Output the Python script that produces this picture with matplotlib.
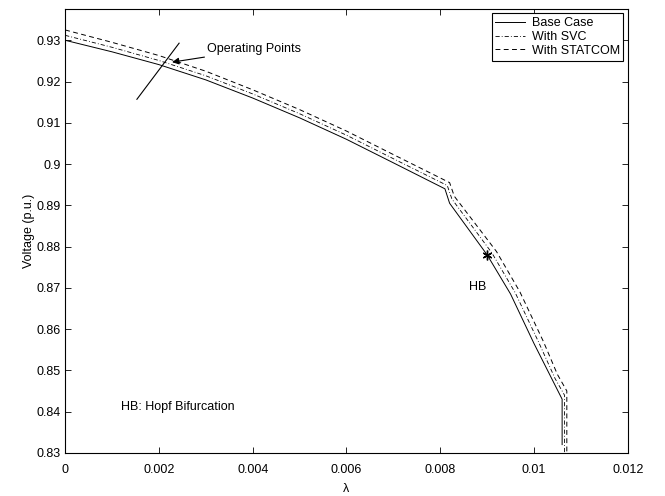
import matplotlib
matplotlib.use("Agg")
import matplotlib.pyplot as plt

plt.rcParams['font.family'] = ['Liberation Sans', 'DejaVu Sans']

# base case
lam_base = [0, 0.001, 0.002, 0.003, 0.004, 0.005, 0.006, 0.007, 0.0081,
            0.0082, 0.009, 0.0095, 0.010, 0.0104, 0.0106, 0.0106]
v_base = [0.9300, 0.9272, 0.9241, 0.9204, 0.9160, 0.9112, 0.9060, 0.9003, 0.8940,
          0.8905, 0.8780, 0.8685, 0.8565, 0.8475, 0.8430, 0.8320]

# with SVC
lam_svc = [0, 0.001, 0.002, 0.003, 0.004, 0.005, 0.006, 0.007, 0.00815,
           0.00825, 0.0091, 0.0096, 0.0101, 0.01045, 0.01065, 0.01065]
v_svc = [0.9312, 0.9283, 0.9251, 0.9214, 0.9170, 0.9122, 0.9070, 0.9013, 0.8948,
         0.8915, 0.8785, 0.8688, 0.8568, 0.8480, 0.8440, 0.8300]

# with STATCOM
lam_stc = [0, 0.001, 0.002, 0.003, 0.004, 0.005, 0.006, 0.007, 0.0082,
           0.0083, 0.0092, 0.0097, 0.0102, 0.0105, 0.0107, 0.0107]
v_stc = [0.9325, 0.9295, 0.9263, 0.9225, 0.9180, 0.9132, 0.9080, 0.9023, 0.8955,
         0.8922, 0.8788, 0.8690, 0.8570, 0.8490, 0.8450, 0.8300]

hb = (0.009, 0.878)
op_line_x = [0.00153, 0.00243]
op_line_y = [0.9157, 0.9293]

fig = plt.figure(figsize=(6.65, 4.96), dpi=100)
ax = fig.add_axes([0.098, 0.087, 0.846, 0.895])

ax.plot(lam_base, v_base, '-', color='black', lw=0.7, label='Base Case')
ax.plot(lam_svc, v_svc, '-.', color='black', lw=0.6, dashes=(5, 2.5, 1, 2.5), label='With SVC')
ax.plot(lam_stc, v_stc, '--', color='black', lw=0.7, dashes=(5, 3.5), label='With STATCOM')
ax.plot(*hb, marker=(6, 2, 0), color='black', ms=7, mew=1.0, ls='none')
ax.plot(op_line_x, op_line_y, '-', color='black', lw=0.8)

ax.annotate('Operating Points', xy=(0.00228, 0.9247), xytext=(0.00303, 0.9278),
            fontsize=9, va='center',
            arrowprops=dict(arrowstyle='-|>', color='black', lw=0.8,
                            mutation_scale=10, shrinkA=0, shrinkB=0))
ax.text(0.00862, 0.8703, 'HB', fontsize=9, va='center')
ax.text(0.00119, 0.8411, 'HB: Hopf Bifurcation', fontsize=9, va='center')

ax.set_xlim(0, 0.012)
ax.set_ylim(0.83, 0.9376)
ax.set_xticks([0, 0.002, 0.004, 0.006, 0.008, 0.01, 0.012])
ax.set_xticklabels(['0', '0.002', '0.004', '0.006', '0.008', '0.01', '0.012'])
ax.set_yticks([0.83, 0.84, 0.85, 0.86, 0.87, 0.88, 0.89, 0.9, 0.91, 0.92, 0.93])
ax.set_yticklabels(['0.83', '0.84', '0.85', '0.86', '0.87', '0.88', '0.89', '0.9',
                    '0.91', '0.92', '0.93'])
ax.tick_params(direction='in', top=True, right=True, labelsize=9, length=4, width=0.6)
ax.tick_params(axis='x', pad=8)
ax.tick_params(axis='y', pad=3)
for s in ax.spines.values():
    s.set_linewidth(0.8)

ax.set_xlabel('λ', fontsize=9, labelpad=5)
ax.set_ylabel('Voltage (p.u.)', fontsize=9, labelpad=1)

leg = ax.legend(loc='upper right', fontsize=9, fancybox=False, framealpha=1,
                edgecolor='black', handlelength=2.4, handletextpad=0.5,
                borderpad=0.3, labelspacing=0.15, borderaxespad=0.35)
leg.get_frame().set_linewidth(0.8)

fig.savefig('out.png', dpi=100)
